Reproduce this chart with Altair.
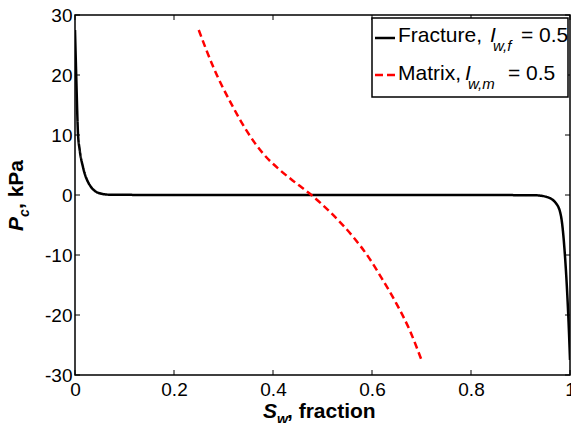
import altair as alt
import pandas as pd

# ---- data ----
frac_sw = [0.0, 0.0027, 0.006, 0.0095, 0.016, 0.0297, 0.05, 0.07, 0.2, 0.5, 0.8, 0.93, 0.952, 0.972, 0.982, 0.989, 0.994, 0.998, 1.0]
frac_pc = [27.5, 19.2, 10.3, 7.5, 4.7, 1.67, 0.28, 0.05, 0.0, 0.0, 0.0, -0.05, -0.3, -1.4, -3.6, -9.2, -15.8, -23.0, -27.5]
mat_sw = [0.25, 0.279, 0.319, 0.346, 0.38, 0.4135, 0.447, 0.4775, 0.518, 0.5616, 0.595, 0.622, 0.649, 0.676, 0.70]
mat_pc = [27.5, 21.4, 14.7, 10.8, 6.9, 4.2, 1.95, 0.0, -3.05, -6.95, -10.6, -14.2, -18.05, -22.5, -27.5]
series_names = ["Fracture", "Matrix"]
x_ticks = [0, 0.2, 0.4, 0.6, 0.8, 1]
y_ticks = [-30, -20, -10, 0, 10, 20, 30]

FONT = "Liberation Sans"
W, H = 495, 360

df = pd.concat([
    pd.DataFrame({"sw": frac_sw, "pc": frac_pc, "series": series_names[0]}),
    pd.DataFrame({"sw": mat_sw, "pc": mat_pc, "series": series_names[1]}),
])

xs = alt.Scale(domain=[0, 1], nice=False, zero=False)
ys = alt.Scale(domain=[-30, 30], nice=False, zero=False)

x_axis = alt.Axis(values=x_ticks, labelExpr="'' + datum.value", ticks=False, domain=False,
                  grid=False, title=None, labelFontSize=19, labelFont=FONT, labelColor="black",
                  labelPadding=5, labelFlush=False, labelOverlap=False, labelBound=False)
y_axis = alt.Axis(values=y_ticks, labelExpr="'' + datum.value", ticks=False, domain=False,
                  grid=False, title=None, labelFontSize=19, labelFont=FONT, labelColor="black",
                  labelPadding=3, labelFlush=False, labelOverlap=False, labelBound=False)

lines = alt.Chart(df).mark_line(strokeWidth=2.5, clip=True, interpolate="monotone").encode(
    x=alt.X("sw:Q", scale=xs, axis=x_axis),
    y=alt.Y("pc:Q", scale=ys, axis=y_axis),
    color=alt.Color("series:N", scale=alt.Scale(domain=series_names, range=["black", "red"]), legend=None),
    strokeDash=alt.StrokeDash("series:N", scale=alt.Scale(domain=series_names, range=[[1, 0], [7, 4]]), legend=None),
)

# inward ticks on all four sides (MATLAB box style)
xt = pd.DataFrame({"sw": x_ticks})
yt = pd.DataFrame({"pc": y_ticks})
tk = 5
xt_bot = alt.Chart(xt).mark_rule(color="black", strokeWidth=1).encode(
    x=alt.X("sw:Q", scale=xs, axis=x_axis), y=alt.value(H), y2=alt.value(H - tk))
xt_top = alt.Chart(xt).mark_rule(color="black", strokeWidth=1).encode(
    x=alt.X("sw:Q", scale=xs, axis=x_axis), y=alt.value(0), y2=alt.value(tk))
yt_left = alt.Chart(yt).mark_rule(color="black", strokeWidth=1).encode(
    y=alt.Y("pc:Q", scale=ys, axis=y_axis), x=alt.value(0), x2=alt.value(tk))
yt_right = alt.Chart(yt).mark_rule(color="black", strokeWidth=1).encode(
    y=alt.Y("pc:Q", scale=ys, axis=y_axis), x=alt.value(W), x2=alt.value(W - tk))

one = pd.DataFrame({"a": [0]})


def txt(s, x, y, size=21, style="normal", weight="normal", angle=0):
    return alt.Chart(one).mark_text(
        text=s, font=FONT, fontSize=size, fontStyle=style, fontWeight=weight,
        align="left", baseline="alphabetic", color="black", angle=angle,
    ).encode(x=alt.value(x), y=alt.value(y))


# legend box
leg_box = alt.Chart(one).mark_rect(fill="white", stroke="black", strokeWidth=1.5).encode(
    x=alt.value(297), x2=alt.value(493), y=alt.value(3), y2=alt.value(82))
leg_l1 = alt.Chart(one).mark_rule(color="black", strokeWidth=2.5).encode(
    x=alt.value(300), x2=alt.value(320), y=alt.value(23))
leg_l2 = alt.Chart(one).mark_rule(color="red", strokeWidth=2.5, strokeDash=[8, 4]).encode(
    x=alt.value(300), x2=alt.value(320), y=alt.value(60))

legend_parts = [
    leg_box, leg_l1, leg_l2,
    txt("Fracture,", 323, 27),
    txt("I", 415, 27, style="italic"),
    txt("w,f", 418, 36, size=15, style="italic"),
    txt("= 0.5", 446, 27),
    txt("Matrix,", 323, 65),
    txt("I", 390, 65, style="italic"),
    txt("w,m", 393, 74, size=15, style="italic"),
    txt("= 0.5", 433, 65),
]

# axis titles with subscripts
title_parts = [
    txt("S", 188, 403, style="italic", weight="bold"),
    txt("w", 202, 409, size=14, style="italic", weight="bold"),
    txt(", fraction", 212, 403, weight="bold"),
    txt("P", -52, 216, style="italic", weight="bold", angle=270),
    txt("c", -46, 202, size=14, style="italic", weight="bold", angle=270),
    txt(", kPa", -52, 194, weight="bold", angle=270),
]

chart = alt.layer(
    lines, xt_bot, xt_top, yt_left, yt_right, *legend_parts, *title_parts
).properties(
    width=W, height=H,
    autosize=alt.AutoSizeParams(type="none"),
    padding={"left": 75, "top": 15, "right": 1, "bottom": 48},
    background="white",
).configure_view(stroke="black", strokeWidth=1.5)

chart.save("out.html", embed_options={"renderer": "svg", "actions": False})
